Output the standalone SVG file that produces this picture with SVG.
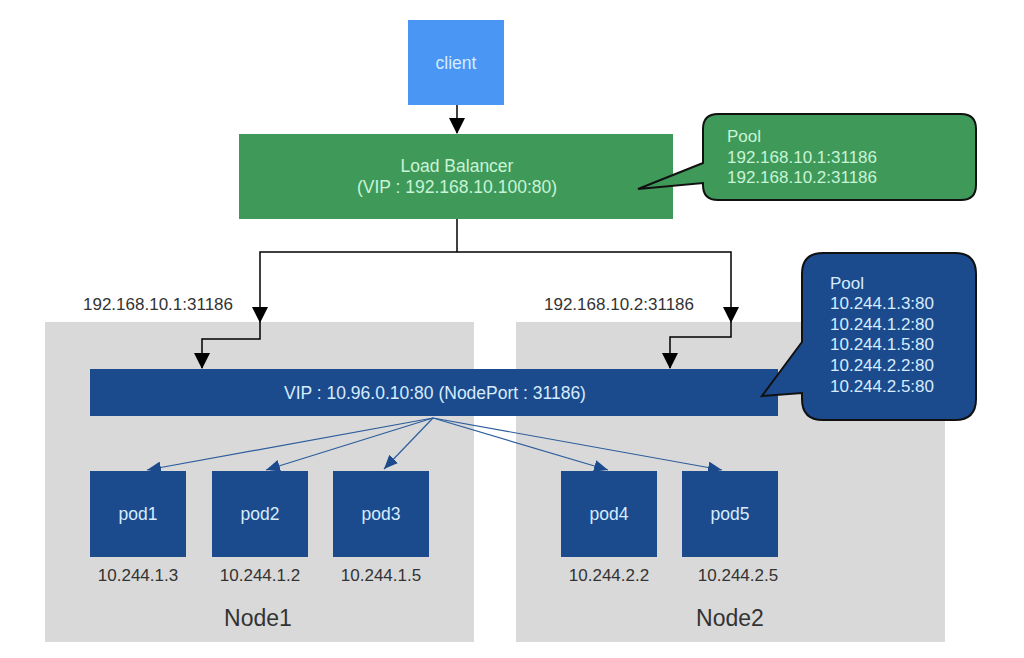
<svg xmlns="http://www.w3.org/2000/svg" width="1024" height="658" viewBox="0 0 1024 658">
<style>
text{font-family:"Liberation Sans","Noto Sans",sans-serif;}
.node{fill:#d9d9d9;}
.blue{fill:#1c4b8d;}
.lt{fill:#d6ecff;font-size:17.5px;text-anchor:middle;}
.gt{fill:#c9f3d6;font-size:17.5px;text-anchor:middle;}
.dk{fill:#333;font-size:17px;text-anchor:middle;}
.big{fill:#333;font-size:23px;text-anchor:middle;}
.pl{font-size:17px;}
.conn{fill:none;stroke:#000;stroke-width:1.5;}
.fan{fill:none;stroke:#2c5d9c;stroke-width:1.2;}
</style>
<defs>
<marker id="ah" markerUnits="userSpaceOnUse" markerWidth="16" markerHeight="16" viewBox="0 0 16 16" refX="15" refY="8" orient="auto"><path d="M0,0 L16,8 L0,16 Z" fill="#000"/></marker>
<marker id="bh" markerUnits="userSpaceOnUse" markerWidth="14" markerHeight="12" viewBox="0 0 14 12" refX="14" refY="6" orient="auto"><path d="M0,0 L14,6 L0,12 Z" fill="#1c4b8d"/></marker>
</defs>
<rect width="1024" height="658" fill="#fff"/>
<g id="node1"><rect class="node" x="45" y="322" width="429" height="320"/><text class="big" x="258" y="626">Node1</text></g>
<g id="node2"><rect class="node" x="516" y="322" width="429" height="320"/><text class="big" x="730" y="626">Node2</text></g>
<g id="client"><rect x="408" y="20" width="96" height="85" fill="#4a96f4"/><text class="lt" x="456" y="69">client</text></g>
<g id="lb"><rect x="239" y="134" width="434" height="85" fill="#3f9a5a"/><text class="gt" x="457" y="172">Load Balancer</text><text class="gt" x="457" y="193">(VIP : 192.168.10.100:80)</text></g>
<g id="lb-pool"><path d="M718,114 H961 Q976,114 976,129 V185 Q976,200 961,200 H718 Q703,200 703,185 V183 L638,189 L703,163 V129 Q703,114 718,114 Z" fill="#3f9a5a" stroke="#111" stroke-width="2"/>
<text class="pl" x="727" y="142" fill="#c9f3d6">Pool</text>
<text class="pl" x="727" y="163" fill="#c9f3d6">192.168.10.1:31186</text>
<text class="pl" x="727" y="183" fill="#c9f3d6">192.168.10.2:31186</text></g>
<g id="vip"><rect class="blue" x="90" y="369" width="688" height="47"/><text class="lt" x="435" y="399">VIP : 10.96.0.10:80 (NodePort : 31186)</text></g>
<g id="svc-pool"><path d="M823,253 H955 Q976,253 976,274 V399 Q976,420 955,420 H823 Q802,420 802,399 V393 L762,396 L802,342 V274 Q802,253 823,253 Z" fill="#1c4b8d" stroke="#111" stroke-width="2"/>
<text class="pl" x="830" y="289" fill="#d6ecff">Pool</text>
<text class="pl" x="830" y="309" fill="#d6ecff">10.244.1.3:80</text>
<text class="pl" x="830" y="330" fill="#d6ecff">10.244.1.2:80</text>
<text class="pl" x="830" y="350" fill="#d6ecff">10.244.1.5:80</text>
<text class="pl" x="830" y="371" fill="#d6ecff">10.244.2.2:80</text>
<text class="pl" x="830" y="392" fill="#d6ecff">10.244.2.5:80</text></g>
<g id="pod1"><rect class="blue" x="90" y="471" width="96" height="86"/><text class="lt" x="138" y="520">pod1</text><text class="dk" x="138" y="581">10.244.1.3</text></g>
<g id="pod2"><rect class="blue" x="212" y="471" width="96" height="86"/><text class="lt" x="260" y="520">pod2</text><text class="dk" x="260" y="581">10.244.1.2</text></g>
<g id="pod3"><rect class="blue" x="333" y="471" width="96" height="86"/><text class="lt" x="381" y="520">pod3</text><text class="dk" x="381" y="581">10.244.1.5</text></g>
<g id="pod4"><rect class="blue" x="561" y="471" width="96" height="86"/><text class="lt" x="609" y="520">pod4</text><text class="dk" x="609" y="581">10.244.2.2</text></g>
<g id="pod5"><rect class="blue" x="682" y="471" width="96" height="86"/><text class="lt" x="730" y="520">pod5</text><text class="dk" x="738" y="581">10.244.2.5</text></g>
<g id="labels">
<text class="pl" x="83" y="310" fill="#333">192.168.10.1:31186</text>
<text class="pl" x="544" y="310" fill="#333">192.168.10.2:31186</text>
</g>
<g id="connectors">
<path class="conn" d="M457,105 V133" marker-end="url(#ah)"/>
<path class="conn" d="M457,219 V252"/>
<path class="conn" d="M457,252 H260 V322" marker-end="url(#ah)"/>
<path class="conn" d="M260,322 V339 H202 V368" marker-end="url(#ah)"/>
<path class="conn" d="M457,252 H731 V322" marker-end="url(#ah)"/>
<path class="conn" d="M731,322 V337 H670 V368" marker-end="url(#ah)"/>
<path class="fan" d="M433,418 L147,470" marker-end="url(#bh)"/>
<path class="fan" d="M433,418 L266,470" marker-end="url(#bh)"/>
<path class="fan" d="M433,418 L384,469" marker-end="url(#bh)"/>
<path class="fan" d="M433,418 L608,470" marker-end="url(#bh)"/>
<path class="fan" d="M433,418 L722,470" marker-end="url(#bh)"/>
</g>
</svg>
